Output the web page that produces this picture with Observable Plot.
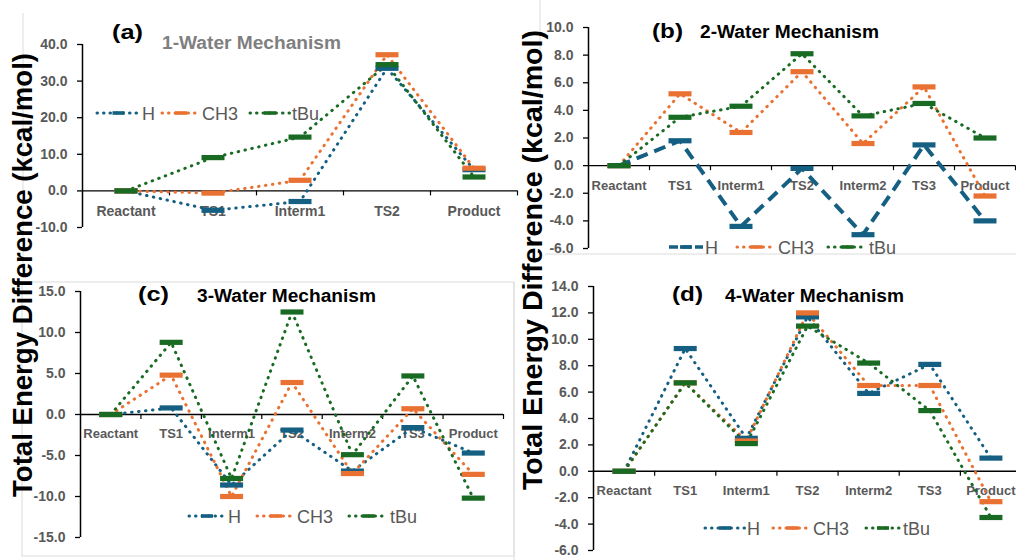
<!DOCTYPE html>
<html><head><meta charset="utf-8">
<script src="https://cdn.jsdelivr.net/npm/d3@7"></script>
<script src="https://cdn.jsdelivr.net/npm/@observablehq/plot@0.6"></script>
<style>
body{margin:0;overflow:hidden;background:#fff}
#wrap{position:relative;width:1016px;height:560px;overflow:hidden;font-family:"Liberation Sans",Arial,sans-serif}
#wrap > svg, #wrap > figure{position:absolute;margin:0}
</style>
</head><body><div id="wrap"></div>
<script>
// ---------- data ----------
const series = ["H", "CH3", "tBu"];
const seriesColors = ["#156082", "#E97132", "#196B24"];
const cats1 = ["Reactant", "TS1", "Interm1", "TS2", "Product"];
const cats2 = ["Reactant", "TS1", "Interm1", "TS2", "Interm2", "TS3", "Product"];

const a_H   = [0, -5.3, -2.9, 33.5, 5.8];
const a_CH3 = [0, -0.6, 2.9, 37.2, 6.2];
const a_tBu = [0, 9.1, 14.7, 34.5, 3.8];

const b_H   = [0, 1.8, -4.4, -0.2, -5.0, 1.5, -4.0];
const b_CH3 = [0, 5.2, 2.4, 6.8, 1.6, 5.7, -2.2];
const b_tBu = [0, 3.5, 4.3, 8.1, 3.6, 4.5, 2.0];

const c_H   = [0, 0.8, -8.6, -1.9, -6.9, -1.6, -4.7];
const c_CH3 = [0, 4.8, -10.0, 3.9, -7.2, 0.7, -7.3];
const c_tBu = [0, 8.8, -7.8, 12.5, -4.9, 4.7, -10.2];

const d_H   = [0, 9.3, 2.5, 11.7, 5.9, 8.1, 1.0];
const d_CH3 = [0, 6.7, 2.3, 12.0, 6.5, 6.5, -2.3];
const d_tBu = [0, 6.7, 2.1, 11.0, 8.2, 4.6, -3.5];

const ticksA = [-10, 0, 10, 20, 30, 40];
const ticksB = [-6, -4, -2, 0, 2, 4, 6, 8, 10];
const ticksC = [-15, -10, -5, 0, 5, 10, 15];
const ticksD = [-6, -4, -2, 0, 2, 4, 6, 8, 10, 12, 14];

const panelLabels = ["(a)", "(b)", "(c)", "(d)"];
const panelTitles = ["1-Water Mechanism", "2-Water Mechanism", "3-Water Mechanism", "4-Water Mechanism"];
const yTitle = "Total Energy Difference (kcal/mol)";

// ---------- layout ----------
const FONT = '"Liberation Sans", Arial, sans-serif';
const GRAY = "#595959";
const panels = [
  {cats: cats1, vals: [a_H, a_CH3, a_tBu], ticks: ticksA, left: 0, top: 0, width: 520, height: 250, mL: 82, mR: 3, mT: 44, mB: 23, catDy: 21, catSize: 14, dashH: false,
   lab: {x: 112, y: 39}, title: {x: 162, y: 49, color: "#7f7f7f"}, legend: {y: 113, items: [[97, 140, 142], [162, 200, 202], [250, 290, 292]]}},
  {cats: cats2, vals: [b_H, b_CH3, b_tBu], ticks: ticksB, left: 500, top: 0, width: 516, height: 260, mL: 88, mR: 1, mT: 27, mB: 12, catDy: 20, catSize: 13, dashH: true,
   lab: {x: 652, y: 38}, title: {x: 700, y: 38, color: "#000"}, legend: {y: 247, items: [[669, 703, 705], [737, 776, 778], [828, 867, 869]]}},
  {cats: cats2, vals: [c_H, c_CH3, c_tBu], ticks: ticksC, left: 0, top: 270, width: 510, height: 290, mL: 80, mR: 7, mT: 21, mB: 23, catDy: 19.5, catSize: 13, dashH: false,
   lab: {x: 138, y: 301}, title: {x: 197, y: 302, color: "#000"}, legend: {y: 516, items: [[189, 225, 228], [257, 295, 297], [349, 388, 390]]}},
  {cats: cats2, vals: [d_H, d_CH3, d_tBu], ticks: ticksD, left: 500, top: 270, width: 521, height: 290, mL: 93, mR: 0, mT: 16, mB: 10, catDy: 19.5, catSize: 13, dashH: false,
   lab: {x: 672, y: 301}, title: {x: 725, y: 302, color: "#000"}, legend: {y: 528, items: [[705, 745, 747], [773, 812, 813], [866, 900, 903]]}}
];

const dotted = {strokeDasharray: "0.5,6.5", strokeLinecap: "round", strokeWidth: 3};
const dashed = {strokeDasharray: "12,7", strokeLinecap: "butt", strokeWidth: 4};
const barSymbol = {draw(ctx) { ctx.rect(-11.5, -2.6, 23, 5.2); }};

const wrap = d3.select("#wrap");

// light panel borders (underlay)
const under = wrap.append("svg").attr("width", 1016).attr("height", 560).style("left", "0px").style("top", "0px");
const bc = "#dcdcdc";
under.append("line").attr("x1", 23).attr("x2", 23).attr("y1", 13).attr("y2", 270).attr("stroke", bc);
under.append("rect").attr("x", 22).attr("y", 282).attr("width", 492).attr("height", 274).attr("fill", "none").attr("stroke", bc);
under.append("line").attr("x1", 540).attr("x2", 540).attr("y1", 0).attr("y2", 128).attr("stroke", bc);
under.append("line").attr("x1", 545).attr("x2", 1016).attr("y1", 254).attr("y2", 254).attr("stroke", bc);
under.append("line").attr("x1", 514).attr("x2", 514).attr("y1", 283).attr("y2", 560).attr("stroke", bc);

// ---------- panels ----------
panels.forEach((p) => {
  const n = p.cats.length;
  const rows = [];
  p.vals.forEach((arr, s) => arr.forEach((v, i) => rows.push({s: series[s], i, v})));
  const bounds = d3.range(n).map((i) => i + 0.5);
  const lineMarks = series.map((name, s) =>
    Plot.line(rows.filter((d) => d.s === name), {
      x: "i", y: "v", stroke: seriesColors[s],
      ...(p.dashH && s === 0 ? dashed : dotted)
    })
  );
  const chart = Plot.plot({
    width: p.width, height: p.height,
    marginLeft: p.mL, marginRight: p.mR, marginTop: p.mT, marginBottom: p.mB,
    style: {fontFamily: FONT, background: "transparent", overflow: "visible"},
    x: {domain: [-0.5, n - 0.5], axis: null},
    y: {domain: [p.ticks[0], p.ticks[p.ticks.length - 1]]},
    color: {domain: series, range: seriesColors},
    marks: [
      Plot.ruleY([0], {stroke: "#000", strokeWidth: 1.4}),
      Plot.ruleX(bounds, {x: (d) => d, y1: () => 0, y2: () => 0, insetBottom: -5, stroke: "#000", strokeWidth: 1.2}),
      Plot.ruleX([-0.5], {stroke: "#000", strokeWidth: 1.5}),
      Plot.axisY({ticks: p.ticks, tickFormat: (d) => d.toFixed(1), tickSize: 5, tickPadding: 10,
        stroke: "#000", strokeWidth: 1.3, fill: GRAY, fontSize: 14, fontWeight: "bold", label: null}),
      Plot.text(p.cats, {x: (d, i) => i, y: () => 0, text: (d) => d, dy: p.catDy,
        fill: GRAY, fontSize: p.catSize, fontWeight: "bold"}),
      ...lineMarks,
      Plot.dot(rows, {x: "i", y: "v", fill: "s", stroke: "none", symbol: barSymbol, r: 3})
    ]
  });
  d3.select(chart).style("left", p.left + "px").style("top", p.top + "px");
  wrap.node().appendChild(chart);
});

// ---------- overlay text: titles, legends, axis title ----------
const over = wrap.append("svg").attr("width", 1016).attr("height", 560).style("left", "0px").style("top", "0px")
  .style("font-family", FONT);

panels.forEach((p, k) => {
  over.append("text").attr("x", p.lab.x).attr("y", p.lab.y).attr("font-size", 21).attr("font-weight", "bold")
    .attr("fill", "#000").attr("textLength", 31).attr("lengthAdjust", "spacingAndGlyphs").text(panelLabels[k]);
  over.append("text").attr("x", p.title.x).attr("y", p.title.y).attr("font-size", 18).attr("font-weight", "bold")
    .attr("fill", p.title.color).attr("textLength", 179).attr("lengthAdjust", "spacingAndGlyphs").text(panelTitles[k]);
  const ly = p.legend.y;
  p.legend.items.forEach(([x0, x1, tx], s) => {
    const st = (p.dashH && s === 0) ? {da: "9,4", w: 3.5, cap: "butt"} : {da: "0.5,6", w: 3, cap: "round"};
    over.append("line").attr("x1", x0).attr("x2", x1).attr("y1", ly).attr("y2", ly)
      .attr("stroke", seriesColors[s]).attr("stroke-width", st.w).attr("stroke-dasharray", st.da).attr("stroke-linecap", st.cap);
    over.append("rect").attr("x", (x0 + x1) / 2 - 6).attr("y", ly - 1.8).attr("width", 12).attr("height", 3.6).attr("fill", seriesColors[s]);
    over.append("text").attr("x", tx).attr("y", ly + 6.5).attr("font-size", 18).attr("fill", GRAY).text(series[s]);
  });
});

over.append("text").attr("transform", "translate(32,275) rotate(-90)").attr("text-anchor", "middle")
  .attr("font-size", 27).attr("font-weight", "bold").attr("fill", "#000")
  .attr("textLength", 444).attr("lengthAdjust", "spacingAndGlyphs").text(yTitle);
over.append("text").attr("transform", "translate(542,260) rotate(-90)").attr("text-anchor", "middle")
  .attr("font-size", 28).attr("font-weight", "bold").attr("fill", "#000")
  .attr("textLength", 460).attr("lengthAdjust", "spacingAndGlyphs").text(yTitle);
</script>
</body></html>
